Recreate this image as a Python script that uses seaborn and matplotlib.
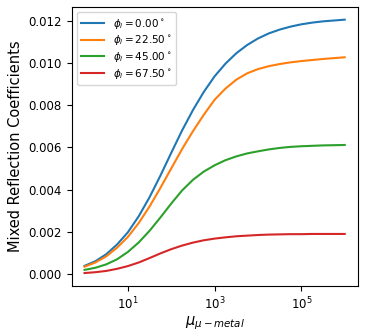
import numpy as np
import pandas as pd
import matplotlib
matplotlib.use("Agg")
import matplotlib.pyplot as plt
import seaborn as sns
from matplotlib.ticker import NullLocator

mu_values = [1, 1.78, 3.16, 5.62, 10, 17.8, 31.6, 56.2, 100, 178, 316, 562,
             1e3, 1.78e3, 3.16e3, 5.62e3, 1e4, 1.78e4, 3.16e4, 5.62e4,
             1e5, 1.78e5, 3.16e5, 5.62e5, 1e6]

r_phi_0 = [0.00039, 0.00061, 0.00094, 0.00140, 0.00198, 0.00274, 0.00364, 0.00466,
           0.00574, 0.00680, 0.00776, 0.00862, 0.00936, 0.00996, 0.01045, 0.01084,
           0.01115, 0.01139, 0.01157, 0.01171, 0.01182, 0.01190, 0.01196, 0.01200, 0.01204]
r_phi_22 = [0.00035, 0.00055, 0.00084, 0.00125, 0.00176, 0.00242, 0.00320, 0.00408,
            0.00500, 0.00592, 0.00676, 0.00754, 0.00825, 0.00878, 0.00920, 0.00950,
            0.00970, 0.00984, 0.00994, 0.01002, 0.01008, 0.01013, 0.01018, 0.01022, 0.01026]
r_phi_45 = [0.00020, 0.00030, 0.00046, 0.00070, 0.00105, 0.00150, 0.00205, 0.00268,
            0.00334, 0.00396, 0.00446, 0.00485, 0.00515, 0.00539, 0.00557, 0.00571,
            0.00581, 0.00590, 0.00597, 0.00602, 0.00605, 0.00607, 0.00609, 0.00610, 0.00611]
r_phi_67 = [0.00005, 0.00009, 0.00015, 0.00025, 0.00038, 0.00055, 0.00076, 0.00098,
            0.00118, 0.00135, 0.00149, 0.00160, 0.00168, 0.00174, 0.00179, 0.00182,
            0.00185, 0.00187, 0.00188, 0.00189, 0.00189, 0.00190, 0.00190, 0.00190, 0.00190]

angle_labels = [r'$\phi_i = 0.00^\circ$', r'$\phi_i = 22.50^\circ$',
                r'$\phi_i = 45.00^\circ$', r'$\phi_i = 67.50^\circ$']
series = [r_phi_0, r_phi_22, r_phi_45, r_phi_67]

rows = []
for lab, vals in zip(angle_labels, series):
    for m, v in zip(mu_values, vals):
        rows.append({"mu": m, "R": v, "angle": lab})
df = pd.DataFrame(rows)

fig = plt.figure(figsize=(3.65, 3.33), dpi=100)
ax = fig.add_axes([0.196, 0.142, 0.784, 0.837])

palette = ["#1f77b4", "#ff7f0e", "#2ca02c", "#d62728"]
sns.lineplot(data=df, x="mu", y="R", hue="angle", hue_order=angle_labels,
             palette=palette, linewidth=1.5, ax=ax)
ax.set_xscale("log")
ax.set_xticks([1e1, 1e3, 1e5])
ax.xaxis.set_minor_locator(NullLocator())
ax.set_yticks([0.000, 0.002, 0.004, 0.006, 0.008, 0.010, 0.012])
ax.tick_params(axis="both", labelsize=8.5)

ax.set_xlabel(r'$\mu_{\mu-metal}$', fontsize=10.5, labelpad=1.5)
ax.set_ylabel("Mixed Reflection Coefficients", fontsize=10.5)

h, l = ax.get_legend_handles_labels()
ax.legend(h, l, loc="upper left", fontsize=7.5, title=None,
          labelspacing=0.25, handlelength=2.2, borderpad=0.45)

fig.savefig("out.png", dpi=100)
